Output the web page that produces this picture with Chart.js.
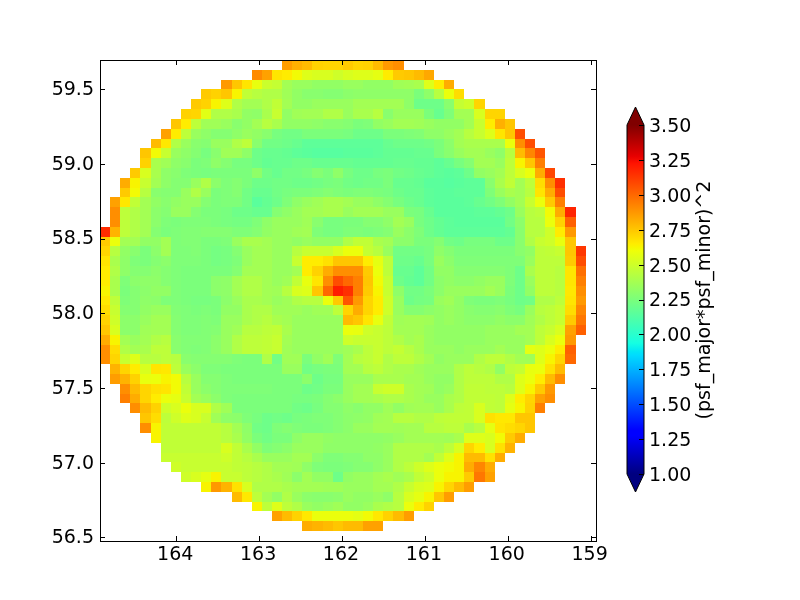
<!DOCTYPE html>
<html>
<head>
<meta charset="utf-8">
<title>psf map</title>
<script src="https://cdn.jsdelivr.net/npm/chart.js@4"></script>
<style>
    body { margin: 0; background: #fff; }
    canvas { position: absolute; left: 0; top: 0; }
</style>
</head>
<body>
<div style="position:absolute;left:0;top:0;width:800px;height:600px"><canvas id="mapChart"></canvas></div>
<div style="position:absolute;left:0;top:0;width:800px;height:600px;pointer-events:none"><canvas id="barChart"></canvas></div>
<script>
// tick labels
const xTicks = [164, 163, 162, 161, 160, 159];
const yTicks = [59.5, 59.0, 58.5, 58.0, 57.5, 57.0, 56.5];
const barTicks = [1.00, 1.25, 1.50, 1.75, 2.00, 2.25, 2.50, 2.75, 3.00, 3.25, 3.50];
const barLabel = "(psf_major*psf_minor)^2";

// axis limits
const xMax = 164.92, xMin = 158.935;
const yMax = 59.695, yMin = 56.475;
const cbMin = 1.0, cbMax = 3.5;

// cell size in degrees
const colStep = 0.1221, rowStep = 0.0657;

// first filled column of each row, top row first
const rowStart = [18,15,12,10,9,8,7,6,5,4,4,3,2,2,1,1,1,0,0,0,0,0,0,0,0,0,0,0,0,0,0,1,1,2,2,3,4,4,5,6,6,7,8,10,13,15,17,20];

// values per row
const r00 = [2.86,2.81,2.78,2.72,2.71,2.71,2.74,2.71,2.72,2.78,2.87,2.9];
const r01 = [2.91,2.85,2.67,2.65,2.61,2.55,2.53,2.53,2.5,2.53,2.55,2.55,2.57,2.65,2.74,2.75,2.78,2.83];
const r02 = [2.87,2.75,2.67,2.58,2.49,2.47,2.37,2.34,2.34,2.32,2.32,2.32,2.34,2.34,2.32,2.32,2.32,2.36,2.37,2.39,2.55,2.65,2.82];
const r03 = [2.74,2.72,2.75,2.63,2.46,2.43,2.41,2.41,2.36,2.32,2.29,2.29,2.28,2.28,2.3,2.31,2.31,2.31,2.31,2.31,2.31,2.25,2.31,2.43,2.59,2.69];
const r04 = [2.74,2.72,2.63,2.55,2.41,2.37,2.37,2.41,2.46,2.37,2.32,2.32,2.34,2.34,2.34,2.34,2.37,2.37,2.37,2.37,2.37,2.31,2.21,2.21,2.21,2.29,2.47,2.5,2.71];
const r05 = [2.72,2.71,2.56,2.41,2.41,2.39,2.32,2.31,2.39,2.48,2.32,2.36,2.37,2.37,2.41,2.41,2.34,2.39,2.39,2.43,2.29,2.34,2.34,2.34,2.25,2.19,2.26,2.37,2.37,2.53,2.71,2.71];
const r06 = [2.75,2.65,2.45,2.36,2.36,2.34,2.29,2.32,2.37,2.43,2.39,2.32,2.32,2.32,2.31,2.29,2.29,2.28,2.25,2.26,2.32,2.34,2.37,2.37,2.36,2.34,2.32,2.32,2.32,2.37,2.48,2.65,2.81,2.75];
const r07 = [2.85,2.65,2.45,2.34,2.31,2.28,2.28,2.31,2.34,2.32,2.29,2.24,2.22,2.22,2.25,2.25,2.25,2.25,2.24,2.21,2.21,2.21,2.25,2.25,2.26,2.27,2.31,2.31,2.34,2.37,2.43,2.48,2.55,2.67,2.75,3.07];
const r08 = [2.78,2.66,2.41,2.34,2.29,2.28,2.34,2.34,2.41,2.45,2.29,2.22,2.22,2.21,2.19,2.16,2.16,2.16,2.16,2.16,2.16,2.16,2.16,2.19,2.21,2.21,2.21,2.22,2.25,2.3,2.37,2.39,2.39,2.39,2.39,2.59,2.9,3.07];
const r09 = [2.75,2.61,2.48,2.34,2.31,2.28,2.24,2.29,2.36,2.36,2.31,2.21,2.19,2.19,2.18,2.16,2.15,2.14,2.14,2.14,2.15,2.15,2.15,2.16,2.18,2.18,2.18,2.19,2.19,2.25,2.29,2.34,2.37,2.37,2.34,2.31,2.43,2.78,2.92,3.05];
const r10 = [2.72,2.39,2.36,2.31,2.29,2.25,2.26,2.31,2.28,2.24,2.24,2.21,2.18,2.19,2.19,2.21,2.21,2.19,2.19,2.19,2.19,2.18,2.18,2.18,2.18,2.19,2.19,2.18,2.18,2.16,2.19,2.24,2.28,2.37,2.37,2.34,2.45,2.63,2.75,2.94];
const r11 = [2.74,2.53,2.39,2.31,2.29,2.26,2.25,2.24,2.25,2.25,2.25,2.25,2.31,2.22,2.19,2.22,2.22,2.24,2.28,2.25,2.31,2.24,2.21,2.21,2.24,2.25,2.22,2.21,2.19,2.18,2.16,2.15,2.16,2.21,2.32,2.34,2.37,2.45,2.53,2.59,2.82,3.09];
const r12 = [2.82,2.63,2.48,2.37,2.31,2.28,2.28,2.34,2.41,2.3,2.26,2.28,2.25,2.21,2.21,2.22,2.22,2.21,2.21,2.22,2.24,2.25,2.22,2.21,2.22,2.22,2.25,2.19,2.19,2.18,2.15,2.15,2.14,2.15,2.16,2.16,2.29,2.39,2.46,2.37,2.45,2.69,2.9,3.15];
const r13 = [2.74,2.61,2.43,2.29,2.28,2.28,2.34,2.41,2.34,2.25,2.26,2.28,2.22,2.19,2.19,2.22,2.24,2.25,2.25,2.26,2.28,2.26,2.25,2.26,2.26,2.25,2.24,2.21,2.19,2.19,2.16,2.15,2.15,2.16,2.16,2.16,2.26,2.34,2.39,2.37,2.43,2.67,2.82,3.07];
const r14 = [2.85,2.66,2.46,2.37,2.32,2.29,2.32,2.34,2.34,2.28,2.25,2.26,2.26,2.22,2.15,2.18,2.21,2.26,2.31,2.34,2.36,2.39,2.39,2.37,2.34,2.34,2.31,2.28,2.24,2.21,2.19,2.16,2.15,2.15,2.15,2.16,2.19,2.22,2.26,2.32,2.37,2.48,2.59,2.74,2.94];
const r15 = [2.9,2.45,2.41,2.37,2.3,2.28,2.34,2.34,2.28,2.25,2.25,2.24,2.21,2.21,2.19,2.19,2.28,2.31,2.34,2.37,2.37,2.39,2.39,2.34,2.37,2.37,2.37,2.34,2.34,2.25,2.24,2.19,2.15,2.15,2.15,2.15,2.16,2.16,2.18,2.21,2.34,2.43,2.45,2.61,2.82,3.18];
const r16 = [2.9,2.45,2.41,2.37,2.3,2.26,2.25,2.26,2.26,2.26,2.25,2.24,2.23,2.23,2.26,2.31,2.34,2.34,2.34,2.36,2.29,2.24,2.24,2.25,2.25,2.28,2.28,2.31,2.37,2.34,2.24,2.21,2.18,2.16,2.15,2.15,2.15,2.15,2.15,2.22,2.3,2.43,2.43,2.59,2.72,3.02];
const r17 = [3.16,2.8,2.45,2.41,2.37,2.28,2.25,2.26,2.27,2.27,2.28,2.28,2.28,2.26,2.26,2.28,2.32,2.34,2.34,2.36,2.37,2.26,2.24,2.24,2.26,2.26,2.25,2.26,2.28,2.34,2.3,2.26,2.21,2.18,2.16,2.16,2.16,2.16,2.16,2.16,2.18,2.29,2.43,2.43,2.5,2.65,2.87];
const r18 = [2.74,2.59,2.37,2.37,2.32,2.32,2.37,2.26,2.27,2.27,2.25,2.25,2.26,2.34,2.39,2.39,2.37,2.34,2.34,2.32,2.34,2.32,2.32,2.32,2.41,2.46,2.46,2.39,2.37,2.3,2.3,2.25,2.25,2.28,2.22,2.21,2.24,2.24,2.24,2.21,2.21,2.29,2.41,2.48,2.5,2.58,2.75];
const r19 = [2.71,2.43,2.32,2.29,2.25,2.3,2.37,2.26,2.26,2.27,2.25,2.23,2.24,2.28,2.34,2.37,2.37,2.34,2.34,2.43,2.48,2.48,2.48,2.53,2.59,2.59,2.47,2.43,2.34,2.22,2.22,2.22,2.24,2.31,2.28,2.25,2.25,2.25,2.25,2.25,2.25,2.29,2.32,2.45,2.46,2.48,2.75,3.13];
const r20 = [2.67,2.39,2.31,2.26,2.25,2.28,2.3,2.26,2.26,2.26,2.25,2.23,2.24,2.26,2.34,2.37,2.37,2.34,2.34,2.48,2.65,2.65,2.68,2.75,2.75,2.75,2.65,2.57,2.45,2.21,2.21,2.19,2.24,2.34,2.3,2.26,2.26,2.26,2.26,2.26,2.26,2.26,2.34,2.45,2.45,2.45,2.74,3.07];
const r21 = [2.65,2.41,2.31,2.28,2.28,2.3,2.28,2.26,2.25,2.25,2.25,2.25,2.25,2.28,2.37,2.37,2.37,2.34,2.34,2.37,2.65,2.72,2.82,2.9,2.9,2.9,2.74,2.59,2.45,2.19,2.19,2.16,2.22,2.32,2.32,2.28,2.28,2.28,2.28,2.28,2.26,2.21,2.39,2.45,2.45,2.43,2.67,2.98];
const r22 = [2.65,2.39,2.26,2.3,2.31,2.31,2.28,2.26,2.25,2.25,2.25,2.3,2.31,2.37,2.41,2.41,2.37,2.34,2.36,2.46,2.58,2.67,2.9,3.07,3.0,2.94,2.75,2.61,2.48,2.21,2.18,2.16,2.22,2.3,2.32,2.3,2.3,2.32,2.34,2.34,2.26,2.21,2.34,2.45,2.45,2.43,2.67,2.94];
const r23 = [2.63,2.39,2.25,2.28,2.3,2.32,2.32,2.26,2.25,2.25,2.25,2.3,2.31,2.37,2.41,2.41,2.37,2.36,2.43,2.53,2.55,2.75,3.0,3.2,3.15,2.94,2.74,2.63,2.48,2.31,2.22,2.22,2.25,2.3,2.34,2.34,2.34,2.34,2.37,2.34,2.25,2.21,2.32,2.45,2.45,2.43,2.66,2.9];
const r24 = [2.66,2.45,2.26,2.28,2.31,2.3,2.26,2.26,2.25,2.24,2.24,2.25,2.3,2.34,2.39,2.39,2.37,2.34,2.36,2.41,2.43,2.43,2.59,2.74,3.05,2.87,2.71,2.65,2.5,2.34,2.21,2.23,2.24,2.34,2.36,2.32,2.26,2.25,2.25,2.26,2.24,2.21,2.22,2.41,2.41,2.45,2.67,2.87];
const r25 = [2.69,2.48,2.28,2.28,2.32,2.34,2.34,2.27,2.26,2.25,2.26,2.25,2.32,2.32,2.39,2.41,2.41,2.36,2.36,2.36,2.34,2.36,2.36,2.45,2.71,2.82,2.71,2.65,2.5,2.34,2.28,2.28,2.3,2.32,2.34,2.32,2.29,2.28,2.28,2.29,2.26,2.24,2.34,2.43,2.45,2.48,2.69,2.92];
const r26 = [2.72,2.5,2.3,2.3,2.34,2.37,2.37,2.28,2.26,2.26,2.27,2.26,2.34,2.34,2.39,2.41,2.43,2.39,2.37,2.34,2.34,2.34,2.34,2.34,2.78,2.75,2.67,2.58,2.46,2.36,2.37,2.37,2.36,2.32,2.34,2.32,2.3,2.3,2.3,2.32,2.3,2.3,2.36,2.41,2.45,2.48,2.74,2.96];
const r27 = [2.75,2.53,2.3,2.3,2.36,2.37,2.37,2.28,2.26,2.26,2.27,2.28,2.34,2.36,2.43,2.43,2.45,2.46,2.39,2.34,2.34,2.34,2.34,2.34,2.59,2.58,2.5,2.48,2.45,2.37,2.37,2.37,2.34,2.32,2.32,2.32,2.32,2.32,2.34,2.34,2.34,2.37,2.37,2.45,2.48,2.53,2.85,3.02];
const r28 = [2.82,2.63,2.37,2.34,2.37,2.41,2.43,2.29,2.27,2.27,2.27,2.3,2.34,2.41,2.45,2.45,2.46,2.48,2.37,2.34,2.34,2.34,2.34,2.34,2.5,2.48,2.48,2.48,2.45,2.41,2.37,2.39,2.34,2.32,2.32,2.32,2.32,2.32,2.34,2.34,2.34,2.34,2.37,2.45,2.53,2.59,2.87];
const r29 = [2.9,2.69,2.41,2.37,2.39,2.45,2.45,2.29,2.27,2.26,2.27,2.3,2.34,2.41,2.45,2.45,2.46,2.48,2.36,2.34,2.34,2.34,2.34,2.34,2.36,2.39,2.45,2.48,2.45,2.47,2.43,2.39,2.34,2.34,2.34,2.32,2.34,2.34,2.34,2.37,2.34,2.34,2.57,2.55,2.59,2.65,3.02];
const r30 = [2.9,2.71,2.48,2.55,2.43,2.43,2.45,2.43,2.29,2.28,2.28,2.28,2.28,2.26,2.25,2.25,2.41,2.22,2.36,2.36,2.25,2.32,2.36,2.26,2.37,2.43,2.45,2.48,2.41,2.45,2.45,2.41,2.37,2.32,2.34,2.34,2.34,2.41,2.45,2.45,2.41,2.37,2.36,2.55,2.63,2.71,3.0];
const r31 = [2.8,2.71,2.65,2.53,2.67,2.66,2.45,2.34,2.3,2.26,2.26,2.25,2.25,2.25,2.25,2.25,2.25,2.34,2.34,2.22,2.24,2.25,2.25,2.37,2.37,2.43,2.45,2.41,2.39,2.39,2.36,2.34,2.34,2.34,2.41,2.45,2.43,2.41,2.32,2.45,2.47,2.58,2.59,2.68,2.78];
const r32 = [2.86,2.8,2.72,2.58,2.59,2.63,2.61,2.43,2.34,2.28,2.28,2.26,2.25,2.25,2.25,2.25,2.25,2.25,2.25,2.3,2.21,2.24,2.24,2.34,2.34,2.34,2.39,2.39,2.39,2.37,2.37,2.34,2.32,2.32,2.41,2.45,2.45,2.45,2.41,2.41,2.55,2.59,2.65,2.78,2.9];
const r33 = [2.9,2.78,2.71,2.68,2.67,2.61,2.46,2.34,2.3,2.28,2.26,2.26,2.26,2.26,2.26,2.25,2.25,2.25,2.21,2.22,2.25,2.25,2.34,2.37,2.37,2.48,2.5,2.5,2.39,2.37,2.36,2.32,2.34,2.41,2.46,2.46,2.45,2.45,2.43,2.55,2.63,2.74,2.87];
const r34 = [2.94,2.82,2.71,2.65,2.59,2.57,2.48,2.37,2.34,2.3,2.26,2.25,2.25,2.25,2.25,2.25,2.25,2.24,2.24,2.25,2.28,2.3,2.34,2.37,2.37,2.39,2.41,2.41,2.39,2.37,2.34,2.34,2.39,2.41,2.46,2.46,2.46,2.45,2.55,2.65,2.71,2.85,2.9];
const r35 = [2.9,2.78,2.72,2.5,2.53,2.59,2.53,2.53,2.41,2.36,2.25,2.25,2.25,2.25,2.25,2.25,2.22,2.21,2.24,2.28,2.28,2.31,2.29,2.32,2.32,2.36,2.32,2.36,2.37,2.37,2.34,2.39,2.45,2.46,2.53,2.46,2.45,2.57,2.63,2.72,2.94];
const r36 = [2.75,2.69,2.45,2.5,2.55,2.53,2.48,2.36,2.31,2.3,2.26,2.24,2.21,2.22,2.21,2.24,2.25,2.26,2.26,2.28,2.3,2.31,2.32,2.36,2.37,2.43,2.43,2.41,2.41,2.45,2.46,2.46,2.46,2.53,2.68,2.66,2.66,2.75,2.75];
const r37 = [2.9,2.63,2.46,2.46,2.46,2.46,2.46,2.46,2.43,2.37,2.31,2.22,2.21,2.26,2.28,2.26,2.25,2.25,2.26,2.28,2.3,2.34,2.34,2.37,2.37,2.36,2.37,2.37,2.43,2.43,2.45,2.45,2.39,2.43,2.57,2.67,2.69,2.71,2.75];
const r38 = [2.63,2.46,2.46,2.46,2.46,2.46,2.46,2.43,2.39,2.32,2.25,2.22,2.25,2.25,2.31,2.34,2.34,2.32,2.31,2.31,2.31,2.31,2.31,2.32,2.34,2.37,2.37,2.37,2.37,2.36,2.39,2.55,2.55,2.53,2.61,2.74,2.82];
const r39 = [2.46,2.46,2.46,2.46,2.46,2.46,2.53,2.46,2.39,2.32,2.26,2.28,2.3,2.34,2.34,2.34,2.31,2.31,2.31,2.31,2.31,2.32,2.34,2.41,2.41,2.41,2.41,2.39,2.45,2.53,2.71,2.65,2.53,2.68,2.8];
const r40 = [2.48,2.48,2.48,2.48,2.48,2.48,2.5,2.46,2.43,2.39,2.34,2.34,2.34,2.37,2.37,2.3,2.26,2.26,2.28,2.28,2.31,2.31,2.34,2.41,2.41,2.41,2.37,2.46,2.55,2.63,2.78,2.78,2.68,2.82];
const r41 = [2.5,2.48,2.48,2.48,2.48,2.48,2.46,2.45,2.43,2.41,2.37,2.37,2.36,2.31,2.26,2.25,2.25,2.26,2.28,2.28,2.31,2.34,2.41,2.45,2.5,2.55,2.59,2.61,2.63,2.82,2.92,2.82];
const r42 = [2.5,2.53,2.57,2.63,2.48,2.48,2.45,2.43,2.41,2.39,2.36,2.3,2.37,2.32,2.32,2.21,2.32,2.34,2.34,2.37,2.39,2.36,2.39,2.46,2.5,2.59,2.63,2.63,2.74,2.96,2.85];
const r43 = [2.63,2.87,2.8,2.68,2.53,2.41,2.41,2.41,2.39,2.37,2.37,2.37,2.36,2.36,2.34,2.34,2.34,2.37,2.37,2.41,2.48,2.53,2.55,2.63,2.71,2.78,2.86];
const r44 = [2.78,2.66,2.45,2.37,2.32,2.41,2.34,2.3,2.29,2.29,2.3,2.34,2.32,2.32,2.34,2.31,2.43,2.53,2.57,2.63,2.75,2.86];
const r45 = [2.63,2.45,2.55,2.45,2.41,2.34,2.32,2.34,2.36,2.32,2.32,2.34,2.39,2.41,2.43,2.59,2.65,2.72];
const r46 = [2.85,2.78,2.72,2.66,2.59,2.59,2.59,2.59,2.57,2.61,2.66,2.72,2.78,2.86];
const r47 = [2.82,2.8,2.78,2.75,2.78,2.78,2.85,2.85];

const rows = [r00,r01,r02,r03,r04,r05,r06,r07,r08,r09,r10,r11,r12,r13,r14,r15,r16,r17,r18,r19,r20,r21,r22,r23,
              r24,r25,r26,r27,r28,r29,r30,r31,r32,r33,r34,r35,r36,r37,r38,r39,r40,r41,r42,r43,r44,r45,r46,r47];

const fontName = "'DejaVu Sans'";
const fontSize = 19;

// jet colormap, same breakpoints as matplotlib
const jetR = [[0,0],[.35,0],[.66,1],[.89,1],[1,.5]];
const jetG = [[0,0],[.125,0],[.375,1],[.64,1],[.91,0],[1,0]];
const jetB = [[0,.5],[.11,1],[.34,1],[.65,0],[1,0]];

function lerp(tab, t) {
    for (let i = 1; i < tab.length; i++) {
        if (t <= tab[i][0]) {
            const k = (t - tab[i-1][0]) / (tab[i][0] - tab[i-1][0]);
            return tab[i-1][1] + k * (tab[i][1] - tab[i-1][1]);
        }
    }
    return tab[tab.length-1][1];
}

function jet(t) {
    t = Math.max(0, Math.min(1, t));
    const c = [jetR, jetG, jetB].map(tab => Math.round(lerp(tab, t) * 255));
    return `rgb(${c[0]},${c[1]},${c[2]})`;
}

// cell centres in data coordinates
const cells = [];
rows.forEach((row, r) => {
    row.forEach((v, i) => {
        cells.push({
            x: xMax - (rowStart[r] + i + 0.5) * colStep,
            y: yMax - (r + 0.5) * rowStep,
            v: v
        });
    });
});

// draws the cells through the chart's scales
const cellPlugin = {
    id: "cells",
    beforeDatasetsDraw(chart) {
        const { ctx, scales: { x, y } } = chart;
        chart.data.datasets[0].data.forEach(p => {
            const x0 = Math.round(x.getPixelForValue(p.x + colStep / 2));
            const x1 = Math.round(x.getPixelForValue(p.x - colStep / 2));
            const y0 = Math.round(y.getPixelForValue(p.y + rowStep / 2));
            const y1 = Math.round(y.getPixelForValue(p.y - rowStep / 2));
            ctx.fillStyle = jet((p.v - cbMin) / (cbMax - cbMin));
            ctx.fillRect(x0, y0, x1 - x0, y1 - y0);
        });
    }
};

// frame and inward ticks on all four sides
const framePlugin = {
    id: "frame",
    afterDraw(chart) {
        const { ctx, chartArea: a, scales: { x, y } } = chart;
        ctx.save();
        ctx.strokeStyle = "#000";
        ctx.lineWidth = 1;
        ctx.beginPath();
        x.ticks.forEach(t => {
            const px = Math.round(x.getPixelForValue(t.value)) + 0.5;
            ctx.moveTo(px, a.top); ctx.lineTo(px, a.top + 5);
            ctx.moveTo(px, a.bottom); ctx.lineTo(px, a.bottom - 5);
        });
        y.ticks.forEach(t => {
            const py = Math.round(y.getPixelForValue(t.value)) + 0.5;
            ctx.moveTo(a.left, py); ctx.lineTo(a.left + 5, py);
            ctx.moveTo(a.right, py); ctx.lineTo(a.right - 5, py);
        });
        ctx.stroke();
        ctx.strokeRect(a.left + 0.5, a.top + 0.5, a.right - a.left, a.bottom - a.top);
        ctx.restore();
    }
};

new Chart(document.getElementById("mapChart"), {
    type: "scatter",
    data: { datasets: [{ data: cells, pointRadius: 0, showLine: false }] },
    plugins: [cellPlugin, framePlugin],
    options: {
        responsive: true,
        maintainAspectRatio: false,
        animation: false,
        events: [],
        layout: { padding: { top: 60, right: 204 } },
        plugins: { legend: { display: false }, tooltip: { enabled: false } },
        scales: {
            x: {
                type: "linear",
                reverse: true,
                min: xMin,
                max: xMax,
                grid: { display: false, drawTicks: false },
                border: { display: false },
                afterBuildTicks: s => { s.ticks = xTicks.map(v => ({ value: v })); },
                afterFit: s => { s.height = 59; },
                ticks: {
                    color: "#000",
                    maxRotation: 0,
                    padding: 3,
                    labelOffset: -1,
                    font: { family: fontName, size: fontSize },
                    callback: v => String(v)
                }
            },
            y: {
                type: "linear",
                min: yMin,
                max: yMax,
                grid: { display: false, drawTicks: false },
                border: { display: false },
                afterBuildTicks: s => { s.ticks = yTicks.map(v => ({ value: v })); },
                afterFit: s => { s.width = 100; },
                ticks: {
                    color: "#000",
                    padding: 6,
                    labelOffset: 1,
                    font: { family: fontName, size: fontSize },
                    callback: v => v.toFixed(1)
                }
            }
        }
    }
});

// colorbar: one floating bar with a jet gradient, plus the two end triangles
function barGradient(c) {
    const { chart } = c;
    if (!chart.chartArea) return "#000";
    const g = chart.ctx.createLinearGradient(0, chart.chartArea.bottom, 0, chart.chartArea.top);
    [0, .11, .125, .25, .34, .35, .375, .5, .64, .65, .66, .75, .89, .91, 1].forEach(t => g.addColorStop(t, jet(t)));
    return g;
}

const colorbarPlugin = {
    id: "colorbarExtras",
    afterDraw(chart) {
        const { ctx, chartArea: a, scales: { y } } = chart;
        const mid = (a.left + a.right) / 2;
        const tip = 18;
        ctx.save();
        ctx.fillStyle = jet(1);
        ctx.beginPath();
        ctx.moveTo(a.left, a.top); ctx.lineTo(mid, a.top - tip); ctx.lineTo(a.right, a.top);
        ctx.closePath(); ctx.fill();
        ctx.fillStyle = "#000080";
        ctx.beginPath();
        ctx.moveTo(a.left, a.bottom); ctx.lineTo(mid, a.bottom + tip); ctx.lineTo(a.right, a.bottom);
        ctx.closePath(); ctx.fill();

        ctx.strokeStyle = "#000";
        ctx.lineWidth = 1;
        ctx.beginPath();
        ctx.moveTo(a.left, a.top); ctx.lineTo(mid, a.top - tip); ctx.lineTo(a.right, a.top);
        ctx.lineTo(a.right, a.bottom); ctx.lineTo(mid, a.bottom + tip); ctx.lineTo(a.left, a.bottom);
        ctx.closePath(); ctx.stroke();

        ctx.beginPath();
        y.ticks.forEach(t => {
            const py = Math.round(y.getPixelForValue(t.value)) + 0.5;
            ctx.moveTo(a.right, py); ctx.lineTo(a.right - 5, py);
        });
        ctx.stroke();

        ctx.fillStyle = "#000";
        ctx.font = fontSize + "px " + fontName;
        ctx.textAlign = "center";
        ctx.textBaseline = "middle";
        ctx.translate(705, 300);
        ctx.rotate(-Math.PI / 2);
        ctx.fillText(barLabel, 0, 0);
        ctx.restore();
    }
};

new Chart(document.getElementById("barChart"), {
    type: "bar",
    data: {
        labels: ["scale"],
        datasets: [{
            data: [[cbMin, cbMax]],
            backgroundColor: barGradient,
            borderWidth: 0,
            barPercentage: 1,
            categoryPercentage: 1
        }]
    },
    plugins: [colorbarPlugin],
    options: {
        responsive: true,
        maintainAspectRatio: false,
        animation: false,
        events: [],
        layout: { padding: { top: 125, left: 627, bottom: 126 } },
        plugins: { legend: { display: false }, tooltip: { enabled: false } },
        scales: {
            x: { display: false },
            y: {
                position: "right",
                min: cbMin,
                max: cbMax,
                grid: { display: false, drawTicks: false },
                border: { display: false },
                afterBuildTicks: s => { s.ticks = barTicks.map(v => ({ value: v })); },
                afterFit: s => { s.width = 156; },
                ticks: {
                    color: "#000",
                    padding: 5,
                    labelOffset: 2,
                    font: { family: fontName, size: fontSize },
                    callback: v => v.toFixed(2)
                }
            }
        }
    }
});
</script>
</body>
</html>
